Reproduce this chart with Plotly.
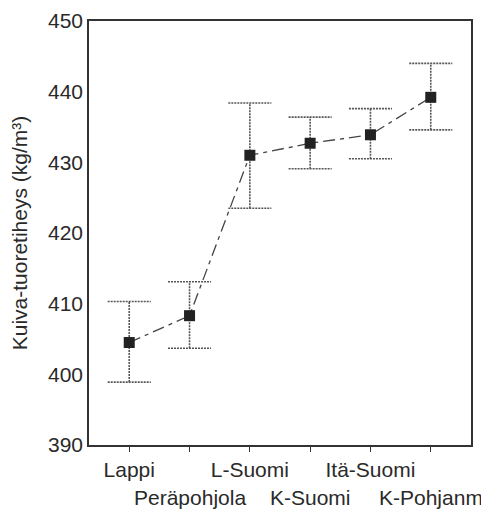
import plotly.graph_objects as go

categories = ["Lappi", "Peräpohjola", "L-Suomi", "K-Suomi", "Itä-Suomi", "K-Pohjanm"]
means = [404.5, 408.3, 431.0, 432.7, 433.9, 439.2]
upper = [410.3, 413.1, 438.4, 436.4, 437.6, 444.0]
lower = [398.9, 403.7, 423.5, 429.1, 430.5, 434.6]
y_ticks = [390, 400, 410, 420, 430, 440, 450]

FONT = "Liberation Sans, Arial, sans-serif"
FS = 21
CAP = 0.357  # half cap width in category units
xs = list(range(len(categories)))

# dotted error bars (stems + caps) built from the upper/lower arrays
ex, ey = [], []
for x, u, l in zip(xs, upper, lower):
    ex += [x, x, None, x - CAP, x + CAP, None, x - CAP, x + CAP, None]
    ey += [l, u, None, u, u, None, l, l, None]

fig = go.Figure()
fig.add_trace(go.Scatter(
    x=ex, y=ey, mode="lines",
    line=dict(color="#555555", width=1.6, dash="2px,1px"),
    hoverinfo="skip", showlegend=False,
))
fig.add_trace(go.Scatter(
    x=xs, y=means, mode="lines+markers",
    line=dict(color="#444444", width=1.3, dash="12px,5px,4px,5px"),
    marker=dict(symbol="square", size=11, color="#222222"),
    showlegend=False,
))

row1 = [c if i % 2 == 0 else "" for i, c in enumerate(categories)]
for i, c in enumerate(categories):
    if i % 2 == 1:
        fig.add_annotation(x=i, y=0, xref="x", yref="paper", text=c,
                           showarrow=False, yanchor="middle", yshift=-52,
                           font=dict(family=FONT, size=FS, color="#2a2a2a"))

# page body has an 8px margin, so the figure is offset by 8px
fig.update_layout(
    width=481, height=503,
    margin=dict(l=81, r=18, t=13, b=66, autoexpand=False),
    paper_bgcolor="white", plot_bgcolor="white",
    font=dict(family=FONT, size=FS, color="#2a2a2a"),
    xaxis=dict(range=[-0.667, 5.667], tickmode="array", tickvals=xs, ticktext=row1,
               showgrid=False, zeroline=False, showline=True, mirror=True,
               linecolor="#333333", linewidth=1.5, ticks="outside", ticklen=5,
               tickcolor="#333333", tickfont=dict(size=FS), automargin=False),
    yaxis=dict(range=[390, 450], tickmode="array", tickvals=y_ticks,
               showgrid=False, zeroline=False, showline=True, mirror=True,
               linecolor="#333333", linewidth=1.5, ticks="",
               tickfont=dict(size=FS), automargin=False,
               title=dict(text="Kuiva-tuoretiheys (kg/m³)", font=dict(size=FS), standoff=15)),
)

fig.write_html("out.html")
